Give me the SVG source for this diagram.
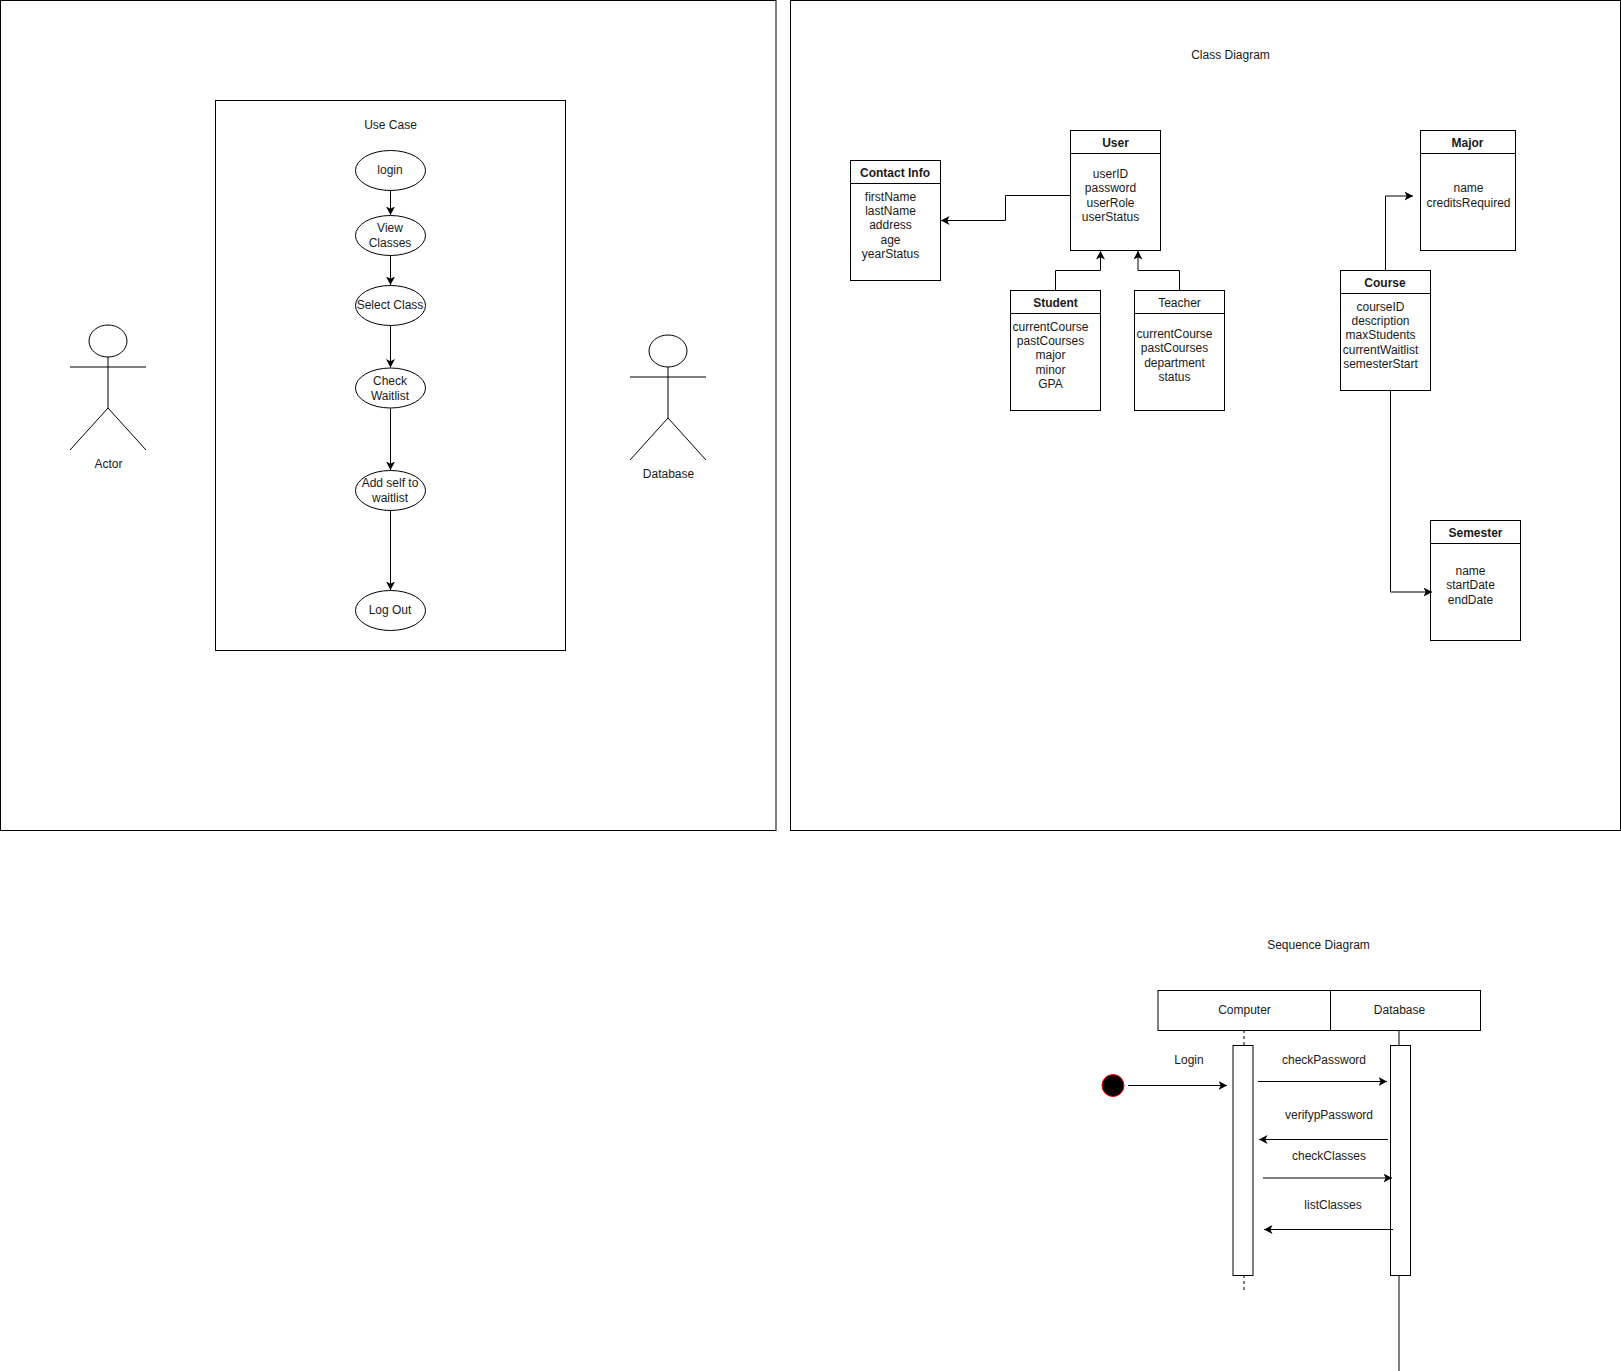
<svg xmlns="http://www.w3.org/2000/svg" width="1621" height="1371" viewBox="0 0 1621 1371">
<defs>
<style>
rect,ellipse,circle{fill:#fff;stroke:#000;stroke-width:1}
.l{fill:none;stroke:#000;stroke-width:1}
.c{fill:none;stroke:#000;stroke-width:1;marker-end:url(#a)}
text{font-family:"Liberation Sans",Arial,Helvetica,sans-serif;font-size:12px;fill:#1a1a1a;text-anchor:middle}
.b{font-weight:bold}
</style>
<marker id="a" markerUnits="userSpaceOnUse" markerWidth="10" markerHeight="10" refX="8.500" refY="4.500" orient="auto"><path d="M0 0L8.500 4.500L0 9L2.200 4.500Z" fill="#000"/></marker>
</defs>
<rect x="0" y="0" width="1621" height="1371" style="stroke:none"/>
<g id="frame-left"><rect x="0.5" y="0.5" width="775.500" height="830"/></g>
<g id="frame-right"><rect x="790.5" y="0.5" width="830" height="830"/></g>
<g id="usecase-box"><rect x="215.5" y="100.5" width="350" height="550"/><text x="390.5" y="129">Use Case</text></g>
<g id="connectors">
<path class="c" d="M390.500 190.500V215"/>
<path class="c" d="M390.500 255.500V285"/>
<path class="c" d="M390.500 325.500V367.500"/>
<path class="c" d="M390.500 408.500V470"/>
<path class="c" d="M390.500 510.500V590"/>
<path class="c" d="M1070.500 195.500H1005.500V220.500H941"/>
<path class="c" d="M1055.500 290.500V270.500H1100.500V251"/>
<path class="c" d="M1179.500 290.500V270.500H1138V251"/>
<path class="c" d="M1385.500 270.500V196H1413"/>
</g>
<g id="login"><ellipse cx="390.500" cy="170.500" rx="35" ry="20"/><text x="390" y="174">login</text></g>
<g id="view-classes"><ellipse cx="390.500" cy="235.500" rx="35" ry="20"/><text x="390" y="232">View</text><text x="390" y="247">Classes</text></g>
<g id="select-class"><ellipse cx="390.500" cy="305.500" rx="35" ry="20"/><text x="390" y="309">Select Class</text></g>
<g id="check-waitlist"><ellipse cx="390.500" cy="388" rx="35" ry="20"/><text x="390" y="385">Check</text><text x="390" y="400">Waitlist</text></g>
<g id="add-self"><ellipse cx="390.500" cy="490.500" rx="35" ry="20"/><text x="390" y="487">Add self to</text><text x="390" y="502">waitlist</text></g>
<g id="log-out"><ellipse cx="390.500" cy="610.500" rx="35" ry="20"/><text x="390" y="614">Log Out</text></g>
<g id="actor"><ellipse cx="108" cy="341" rx="19" ry="16"/><path class="l" d="M108 357V408M70 367H146M70 450L108 408L146 450"/><text x="108.500" y="468">Actor</text></g>
<g id="database"><ellipse cx="668" cy="351" rx="19" ry="16"/><path class="l" d="M668 367V418M630 377H706M630 460L668 418L706 460"/><text x="668.500" y="478">Database</text></g>
<g id="class-title"><text x="1230.500" y="59">Class Diagram</text></g>
<g id="contact-info"><rect x="850.500" y="160.500" width="90" height="120"/><path class="l" d="M850.500 183.500H940.500"/><text class="b" x="895" y="177">Contact Info</text><text x="890.500" y="201">firstName</text><text x="890.500" y="215">lastName</text><text x="890.500" y="229">address</text><text x="890.500" y="244">age</text><text x="890.500" y="258">yearStatus</text></g>
<g id="user"><rect x="1070.500" y="130.500" width="90" height="120"/><path class="l" d="M1070.500 153.500H1160.500"/><text class="b" x="1115.500" y="147">User</text><text x="1110.500" y="178">userID</text><text x="1110.500" y="192">password</text><text x="1110.500" y="207">userRole</text><text x="1110.500" y="221">userStatus</text></g>
<g id="student"><rect x="1010.500" y="290.500" width="90" height="120"/><path class="l" d="M1010.500 313.500H1100.500"/><text class="b" x="1055.500" y="307">Student</text><text x="1050.500" y="331">currentCourse</text><text x="1050.500" y="345">pastCourses</text><text x="1050.500" y="359">major</text><text x="1050.500" y="374">minor</text><text x="1050.500" y="388">GPA</text></g>
<g id="teacher"><rect x="1134.500" y="290.500" width="90" height="120"/><path class="l" d="M1134.500 313.500H1224.500"/><text x="1179.500" y="307">Teacher</text><text x="1174.500" y="338">currentCourse</text><text x="1174.500" y="352">pastCourses</text><text x="1174.500" y="367">department</text><text x="1174.500" y="381">status</text></g>
<g id="major"><rect x="1420.500" y="130.500" width="95" height="120"/><path class="l" d="M1420.500 153.500H1515.500"/><text class="b" x="1467.500" y="147">Major</text><text x="1468.500" y="192">name</text><text x="1468.500" y="207">creditsRequired</text></g>
<g id="course"><rect x="1340.500" y="270.500" width="90" height="120"/><path class="l" d="M1340.500 293.500H1430.500"/><text class="b" x="1385" y="287">Course</text><text x="1380.500" y="311">courseID</text><text x="1380.500" y="325">description</text><text x="1380.500" y="339">maxStudents</text><text x="1380.500" y="354">currentWaitlist</text><text x="1380.500" y="368">semesterStart</text></g>
<g id="semester"><rect x="1430.500" y="520.500" width="90" height="120"/><path class="l" d="M1430.500 543.500H1520.500"/><text class="b" x="1475.500" y="537">Semester</text><text x="1470.500" y="575">name</text><text x="1470.500" y="589">startDate</text><text x="1470.500" y="604">endDate</text></g>
<g id="sequence-title"><text x="1318.500" y="949">Sequence Diagram</text></g>
<g id="lifelines">
<path class="l" d="M1244 1030V1045M1244 1275V1292" stroke-dasharray="3 3"/>
<path class="l" d="M1399 1030V1045M1399 1275V1371"/>
</g>
<g id="computer"><rect x="1158" y="990.500" width="172.500" height="40"/><text x="1244.500" y="1014">Computer</text><rect x="1233" y="1045.500" width="20" height="230"/></g>
<g id="database-life"><rect x="1330.500" y="990.500" width="150" height="40"/><text x="1399.500" y="1014">Database</text><rect x="1390.500" y="1045.500" width="20" height="230"/></g>
<g id="start"><circle cx="1113" cy="1085.500" r="11" style="fill:#000;stroke:#f00"/></g>
<g id="message-connectors">
<path class="c" d="M1390.500 390.500V592H1432"/>
<path class="c" d="M1128 1085.500H1227"/>
<path class="c" d="M1258 1081.500H1387"/>
<path class="c" d="M1388 1139.500H1259"/>
<path class="c" d="M1263 1178H1392"/>
<path class="c" d="M1393 1229.500H1264"/>
</g>
<g id="messages">
<text x="1189" y="1064">Login</text>
<text x="1324" y="1064">checkPassword</text>
<text x="1329" y="1119">verifypPassword</text>
<text x="1329" y="1160">checkClasses</text>
<text x="1333" y="1209">listClasses</text>
</g>
</svg>
